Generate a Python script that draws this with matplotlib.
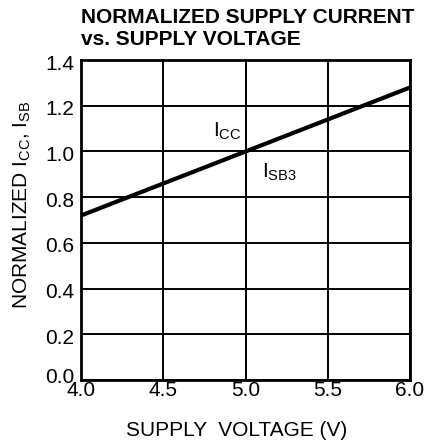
import matplotlib
matplotlib.use('Agg')
import matplotlib.pyplot as plt
from matplotlib.transforms import offset_copy

plt.rcParams['font.family'] = ['Liberation Sans', 'DejaVu Sans']
plt.rcParams['mathtext.default'] = 'regular'

# normalized supply current vs supply voltage
vcc = [4.0, 5.0, 6.0]
icc_norm = [0.72, 1.0, 1.28]

xticks = [4.0, 4.5, 5.0, 5.5, 6.0]
yticks = [0.0, 0.2, 0.4, 0.6, 0.8, 1.0, 1.2, 1.4]

FS = 15

fig = plt.figure(figsize=(4.27, 4.45), dpi=100)
ax = fig.add_axes([0.190, 0.146, 0.770, 0.719])

ax.plot(vcc, icc_norm, color='black', lw=3.0, solid_capstyle='butt', zorder=3)

ax.set_xlim(4.0, 6.0)
ax.set_ylim(0.0, 1.4)
ax.set_xticks(xticks)
ax.set_yticks(yticks)
ax.set_xticklabels(['%.1f' % v for v in xticks], fontsize=FS)
ax.set_yticklabels([])
ax.tick_params(length=0)
ax.tick_params(axis='x', pad=1)
ax.grid(True, color='black', lw=1.4)
for s in ax.spines.values():
    s.set_linewidth(2.0)

# y tick labels sit a little below their grid line, the bottom one a little above
ytrans = ax.get_yaxis_transform()
for v in yticks:
    dy = 3 if v == 0.0 else -4
    tr = offset_copy(ytrans, fig=fig, x=-7, y=dy, units='dots')
    ax.text(0, v, '%.1f' % v, fontsize=FS, ha='right', va='center', transform=tr)

ax.text(4.80, 1.09, '$I_{CC}$', fontsize=FS, ha='left', va='center',
        bbox=dict(facecolor='white', edgecolor='none', pad=1), zorder=4)
ax.text(5.10, 0.91, '$I_{SB3}$', fontsize=FS, ha='left', va='center',
        bbox=dict(facecolor='white', edgecolor='none', pad=1), zorder=4)

fig.text(236.5 / 427, 1 - 430 / 445, 'SUPPLY  VOLTAGE (V)', fontsize=FS,
         ha='center', va='center')
fig.text(22 / 427, 1 - 205 / 445, 'NORMALIZED $I_{CC}$, $I_{SB}$', fontsize=FS,
         ha='center', va='center', rotation=90)

fig.text(0.190, 1 - 23 / 445, 'NORMALIZED SUPPLY CURRENT',
         fontsize=FS, fontweight='bold', ha='left', va='baseline')
fig.text(0.190, 1 - 45 / 445, 'vs. SUPPLY VOLTAGE',
         fontsize=FS, fontweight='bold', ha='left', va='baseline')

fig.savefig('out.png', dpi=100)
